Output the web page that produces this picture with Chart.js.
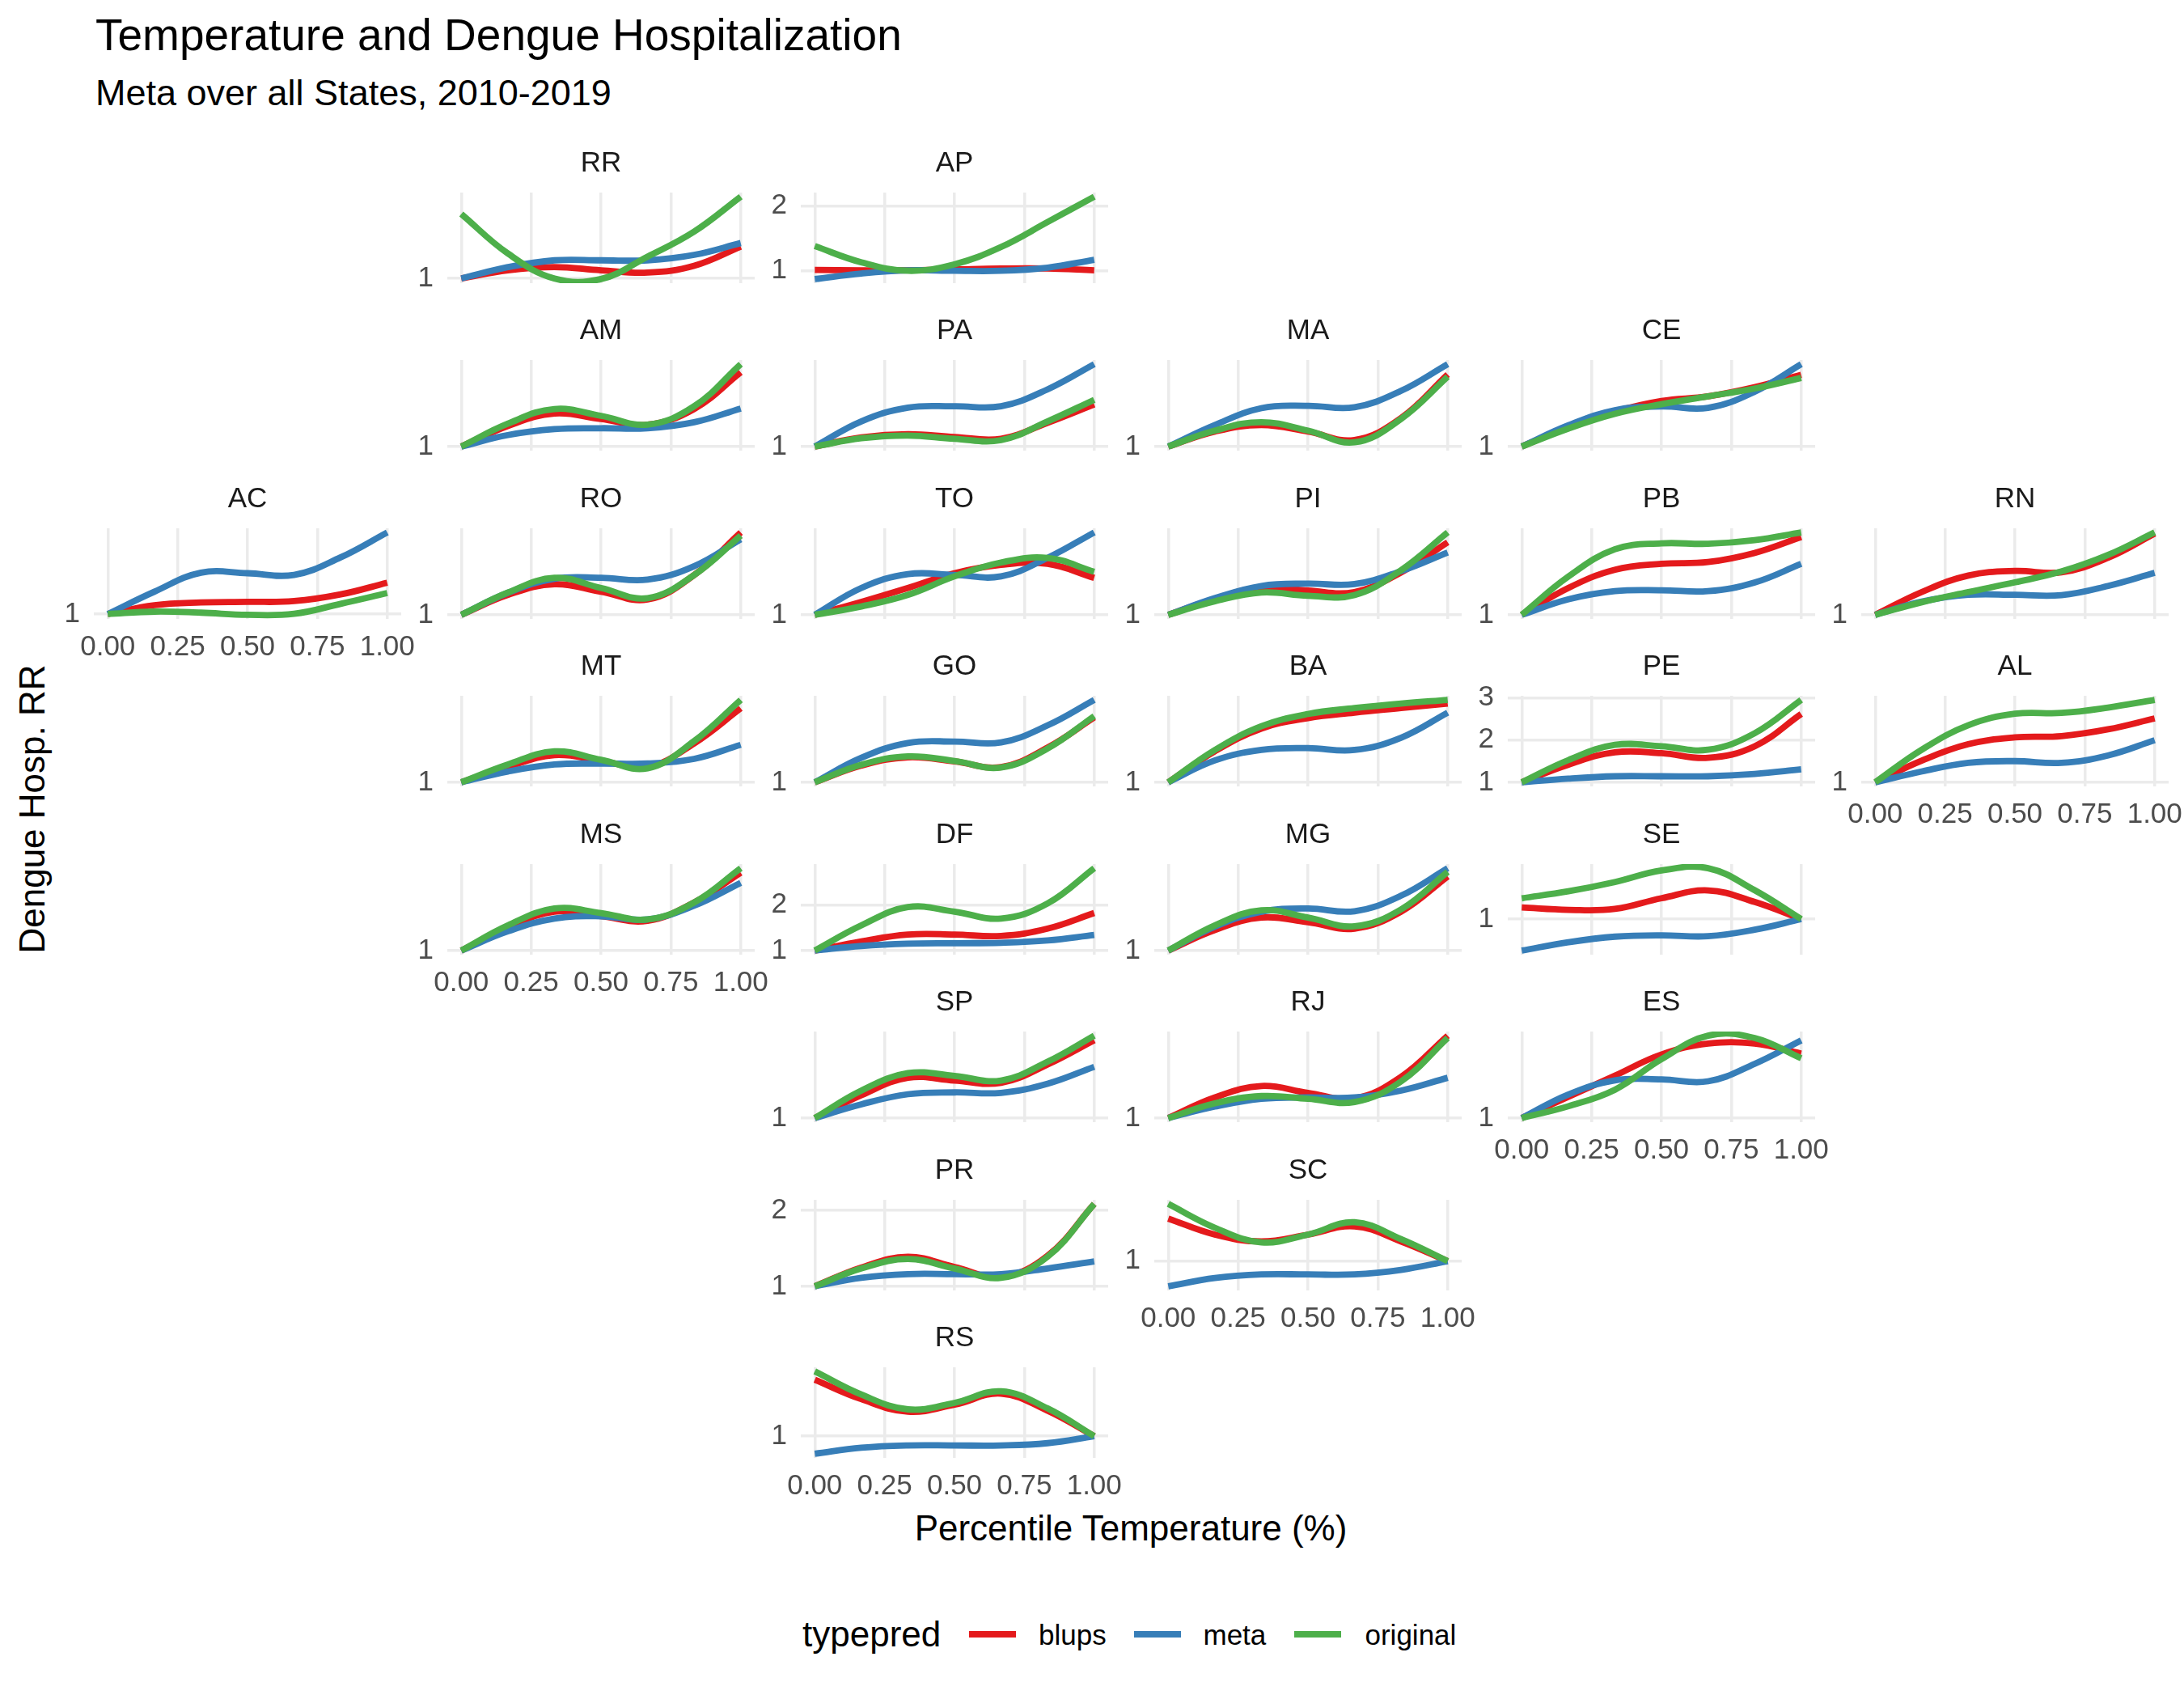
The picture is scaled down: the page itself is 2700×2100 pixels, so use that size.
<!DOCTYPE html>
<html>
<head>
<meta charset="utf-8">
<script src="https://cdn.jsdelivr.net/npm/chart.js@4.4.1/dist/chart.umd.min.js"></script>
<style>
html, body { margin: 0; padding: 0; background: #ffffff; }
#page { position: relative; width: 2700px; height: 2100px; overflow: hidden; background: #ffffff;
        font-family: 'Liberation Sans', Arial, Helvetica, sans-serif; }
.t { position: absolute; white-space: nowrap; line-height: 1; color: #000000; }
canvas { position: absolute; }
</style>
</head>
<body>
<div id="page"></div>
<script>
// ---------------- DATA ----------------
const pct = [0, 0.1667, 0.3333, 0.5, 0.6667, 0.8333, 1];
const xTickValues = [0, 0.25, 0.5, 0.75, 1];
const seriesNames = ['blups', 'meta', 'original'];

const states = ['RR','AP','AM','PA','MA','CE','AC','RO','TO','PI','PB','RN','MT','GO','BA','PE','AL','MS','DF','MG','SE','SP','RJ','ES','PR','SC','RS'];

const blups = [
  [1.0, 1.072, 1.1, 1.072, 1.052, 1.112, 1.28],      // RR
  [1.014, 1.007, 1.007, 1.021, 1.035, 1.035, 1.007], // AP
  [1, 1.18, 1.288, 1.24, 1.192, 1.328, 1.648],       // AM
  [1, 1.08, 1.108, 1.084, 1.068, 1.208, 1.368],      // PA
  [1, 1.128, 1.184, 1.128, 1.056, 1.244, 1.616],     // MA
  [1, 1.168, 1.304, 1.396, 1.436, 1.516, 1.624],     // CE
  [1, 1.078, 1.102, 1.107, 1.114, 1.173, 1.276],     // AC
  [1, 1.172, 1.264, 1.2, 1.132, 1.344, 1.712],       // RO
  [1, 1.112, 1.232, 1.36, 1.432, 1.44, 1.32],        // TO
  [1, 1.136, 1.236, 1.208, 1.196, 1.364, 1.624],     // PI
  [1, 1.236, 1.396, 1.448, 1.464, 1.544, 1.684],     // PB
  [1, 1.197, 1.34, 1.38, 1.368, 1.494, 1.703],       // RN
  [1, 1.132, 1.232, 1.184, 1.132, 1.332, 1.632],     // MT
  [1, 1.144, 1.216, 1.18, 1.132, 1.3, 1.56],         // GO
  [1, 1.272, 1.472, 1.564, 1.612, 1.652, 1.692],     // BA
  [1, 1.415, 1.71, 1.689, 1.579, 1.852, 2.617],      // PE
  [1, 1.19, 1.333, 1.392, 1.404, 1.463, 1.558],      // AL
  [1, 1.2, 1.34, 1.3, 1.26, 1.42, 1.68],             // MS
  [1, 1.2, 1.35, 1.35, 1.32, 1.48, 1.82],            // DF
  [1, 1.18, 1.288, 1.248, 1.192, 1.34, 1.648],       // MG
  [1.1, 1.08, 1.088, 1.18, 1.248, 1.148, 1],         // SE
  [1, 1.2, 1.352, 1.328, 1.308, 1.468, 1.68],        // SP
  [1, 1.18, 1.28, 1.22, 1.172, 1.36, 1.72],          // RJ
  [1, 1.18, 1.36, 1.54, 1.632, 1.632, 1.548],        // ES
  [1, 1.248, 1.391, 1.255, 1.124, 1.404, 2.087],     // PR
  [1.372, 1.232, 1.172, 1.232, 1.304, 1.172, 1],     // SC
  [1.488, 1.32, 1.212, 1.272, 1.368, 1.22, 1]        // RS
];

const meta = [
  [1.0, 1.1, 1.16, 1.16, 1.16, 1.208, 1.312],        // RR
  [0.873, 0.958, 1.007, 1.0, 1.0, 1.049, 1.169],     // AP
  [1, 1.1, 1.152, 1.16, 1.16, 1.212, 1.332],         // AM
  [1, 1.22, 1.34, 1.352, 1.352, 1.5, 1.72],          // PA
  [1, 1.184, 1.328, 1.348, 1.336, 1.476, 1.704],     // MA
  [1, 1.184, 1.316, 1.348, 1.336, 1.476, 1.716],     // CE
  [1, 1.197, 1.365, 1.36, 1.345, 1.5, 1.72],         // AC
  [1, 1.19, 1.312, 1.32, 1.304, 1.42, 1.652],        // RO
  [1, 1.232, 1.352, 1.344, 1.332, 1.492, 1.712],     // TO
  [1, 1.144, 1.248, 1.268, 1.264, 1.376, 1.536],     // PI
  [1, 1.136, 1.208, 1.216, 1.208, 1.284, 1.448],     // PB
  [1, 1.114, 1.173, 1.173, 1.17, 1.25, 1.363],       // RN
  [1, 1.092, 1.152, 1.16, 1.16, 1.2, 1.32],          // MT
  [1, 1.212, 1.34, 1.352, 1.344, 1.492, 1.712],      // GO
  [1, 1.192, 1.284, 1.3, 1.284, 1.392, 1.612],       // BA
  [1, 1.087, 1.142, 1.142, 1.142, 1.197, 1.306],     // PE
  [1, 1.095, 1.17, 1.185, 1.17, 1.235, 1.368],       // AL
  [1, 1.168, 1.28, 1.3, 1.272, 1.392, 1.592],        // MS
  [1, 1.1, 1.15, 1.16, 1.17, 1.22, 1.34],            // DF
  [1, 1.208, 1.34, 1.368, 1.344, 1.48, 1.72],        // MG
  [0.728, 0.8, 0.848, 0.86, 0.852, 0.908, 1],        // SE
  [1, 1.12, 1.208, 1.224, 1.22, 1.3, 1.448],         // SP
  [1, 1.1, 1.168, 1.18, 1.18, 1.24, 1.352],          // RJ
  [1, 1.2, 1.32, 1.328, 1.312, 1.46, 1.66],          // ES
  [1, 1.112, 1.161, 1.161, 1.161, 1.236, 1.329],     // PR
  [0.78, 0.852, 0.884, 0.884, 0.884, 0.924, 1],      // SC
  [0.848, 0.9, 0.92, 0.92, 0.92, 0.94, 1]            // RS
];

const original = [
  [1.568, 1.22, 1.0, 0.995, 1.192, 1.412, 1.72],     // RR
  [1.38, 1.13, 1.0, 1.1, 1.366, 1.75, 2.14],         // AP
  [1, 1.2, 1.328, 1.268, 1.192, 1.352, 1.72],        // AM
  [1, 1.072, 1.096, 1.068, 1.056, 1.22, 1.408],      // PA
  [1, 1.136, 1.208, 1.136, 1.036, 1.236, 1.596],     // MA
  [1, 1.156, 1.284, 1.368, 1.436, 1.504, 1.596],     // CE
  [1, 1.021, 1.012, 0.993, 1.002, 1.09, 1.185],      // AC
  [1, 1.192, 1.32, 1.232, 1.144, 1.344, 1.684],      // RO
  [1, 1.072, 1.172, 1.332, 1.452, 1.492, 1.372],     // TO
  [1, 1.116, 1.192, 1.164, 1.17, 1.384, 1.708],      // PI
  [1, 1.336, 1.576, 1.628, 1.624, 1.656, 1.724],     // PB
  [1, 1.109, 1.197, 1.281, 1.375, 1.518, 1.713],     // RN
  [1, 1.152, 1.264, 1.192, 1.12, 1.352, 1.704],      // MT
  [1, 1.152, 1.224, 1.184, 1.128, 1.292, 1.572],     // GO
  [1, 1.284, 1.492, 1.6, 1.652, 1.692, 1.724],       // BA
  [1, 1.525, 1.885, 1.853, 1.77, 2.16, 2.95],        // PE
  [1, 1.285, 1.499, 1.599, 1.606, 1.653, 1.72],      // AL
  [1, 1.22, 1.368, 1.328, 1.272, 1.42, 1.72],        // MS
  [1, 1.55, 1.95, 1.85, 1.7, 2.03, 2.8],             // DF
  [1, 1.22, 1.352, 1.288, 1.212, 1.36, 1.688],       // MG
  [1.18, 1.24, 1.32, 1.42, 1.44, 1.25, 1],           // SE
  [1, 1.24, 1.392, 1.368, 1.328, 1.492, 1.72],       // SP
  [1, 1.128, 1.192, 1.168, 1.14, 1.32, 1.7],         // RJ
  [1, 1.1, 1.24, 1.5, 1.7, 1.68, 1.508],             // ES
  [1, 1.236, 1.36, 1.236, 1.112, 1.391, 2.087],      // PR
  [1.5, 1.292, 1.164, 1.232, 1.34, 1.192, 1],        // SC
  [1.56, 1.36, 1.232, 1.288, 1.388, 1.24, 1]         // RS
];

// geofacet grid (column, row) for each state, same order as `states`
const gridCol = [1,2, 1,2,3,4, 0,1,2,3,4,5, 1,2,3,4,5, 1,2,3,4, 2,3,4, 2,3, 2];
const gridRow = [0,0, 1,1,1,1, 2,2,2,2,2,2, 3,3,3,3,3, 4,4,4,4, 5,5,5, 6,6, 7];

// ---------------- STYLE / LAYOUT ----------------
const FONT = "'Liberation Sans', Arial, Helvetica, sans-serif";
const colors = ['#E41A1C', '#377EB8', '#4DAF4A'];
const seriesData = [blups, meta, original];
const seriesOrder = [3, 2, 1]; // original drawn on top

const X0 = 133.3, COLW = 436.9, UNIT = 345.7;
const TOP0 = 237.5, ROWH = 207.55, PH = 112;
const YW = 70, TH = 60, XH = 60, PADR = 40;
const LINE_W = 7.8;

Chart.defaults.font.family = FONT;
const page = document.getElementById('page');

function addText(txt, css) {
  const d = document.createElement('div');
  d.className = 't';
  d.textContent = txt;
  Object.assign(d.style, css);
  page.appendChild(d);
  return d;
}

// Titles
addText('Temperature and Dengue Hospitalization', { left: '118px', top: '15.6px', fontSize: '55px' });
addText('Meta over all States, 2010-2019', { left: '118px', top: '92.2px', fontSize: '45px' });
addText('Percentile Temperature (%)', { left: '1398px', top: '1866.8px', fontSize: '44px', transform: 'translateX(-50%)' });
addText('Dengue Hosp. RR', { left: '40px', top: '1000px', fontSize: '44px', transform: 'translate(-50%,-50%) rotate(-90deg)' });

// Legend
addText('typepred', { left: '992px', top: '1998px', fontSize: '44px' });
const keyLeft = [1198, 1402, 1600];
const labLeft = [1284, 1487.5, 1687.5];
seriesNames.forEach((nm, k) => {
  const key = document.createElement('div');
  Object.assign(key.style, { position: 'absolute', left: keyLeft[k] + 'px', top: (2020 - LINE_W / 2) + 'px',
                             width: '57.5px', height: LINE_W + 'px', background: colors[k] });
  page.appendChild(key);
  addText(nm, { left: labLeft[k] + 'px', top: '2002.5px', fontSize: '35px' });
});

// Panels
const occupied = new Set(states.map((s, i) => gridCol[i] + ',' + gridRow[i]));

states.forEach((st, i) => {
  const c = gridCol[i], r = gridRow[i];
  const showX = !occupied.has(c + ',' + (r + 1));
  const x0 = X0 + COLW * c;
  const panelLeft = Math.round(x0 - 0.05 * UNIT);
  const panelW = Math.round(UNIT * 1.1);
  const panelTop = Math.round(TOP0 + ROWH * r);

  const cv = document.createElement('canvas');
  cv.width = YW + panelW + PADR;
  cv.height = TH + PH + XH;
  cv.style.left = (panelLeft - YW) + 'px';
  cv.style.top = (panelTop - TH) + 'px';
  cv.style.width = cv.width + 'px';
  cv.style.height = cv.height + 'px';
  page.appendChild(cv);

  const all = [].concat(blups[i], meta[i], original[i]);
  const lo0 = Math.min(...all), hi0 = Math.max(...all);
  const padY = 0.05 * (hi0 - lo0);
  const lo = lo0 - padY, hi = hi0 + padY;
  const yTicks = [];
  for (let v = Math.ceil(lo); v <= Math.floor(hi); v++) yTicks.push(v);

  const datasets = seriesNames.map((nm, k) => ({
    label: nm,
    data: pct.map((x, j) => ({ x: x, y: seriesData[k][i][j] })),
    borderColor: colors[k],
    backgroundColor: colors[k],
    borderWidth: LINE_W,
    pointRadius: 0,
    pointHoverRadius: 0,
    fill: false,
    tension: 0.4,
    order: seriesOrder[k]
  }));

  const gridOpts = { color: '#EBEBEB', lineWidth: 3.5, drawTicks: false };
  const tickFont = { family: FONT, size: 35 };

  new Chart(cv, {
    type: 'line',
    data: { datasets: datasets },
    options: {
      responsive: false,
      animation: false,
      devicePixelRatio: 1,
      events: [],
      layout: { padding: { left: 0, right: PADR, top: 0, bottom: 0 } },
      elements: { line: { capBezierPoints: false } },
      plugins: {
        legend: { display: false },
        tooltip: { enabled: false },
        title: {
          display: true, text: st, fullSize: false, color: '#1A1A1A',
          font: { family: FONT, size: 35, weight: 'normal', lineHeight: 1.2 },
          padding: { top: 3, bottom: 15 }
        }
      },
      scales: {
        x: {
          type: 'linear', min: -0.05, max: 1.05,
          afterBuildTicks: sc => { sc.ticks = xTickValues.map(v => ({ value: v })); },
          afterFit: sc => { sc.height = XH; },
          ticks: { display: showX, padding: 14, color: '#4D4D4D', font: tickFont,
                   maxRotation: 0, autoSkip: false, callback: v => Number(v).toFixed(2) },
          grid: gridOpts,
          border: { display: false }
        },
        y: {
          type: 'linear', min: lo, max: hi,
          afterBuildTicks: sc => { sc.ticks = yTicks.map(v => ({ value: v })); },
          afterFit: sc => { sc.width = YW; },
          ticks: { padding: 17, color: '#4D4D4D', font: tickFont, callback: v => String(v) },
          grid: gridOpts,
          border: { display: false }
        }
      }
    }
  });
});
</script>
</body>
</html>
